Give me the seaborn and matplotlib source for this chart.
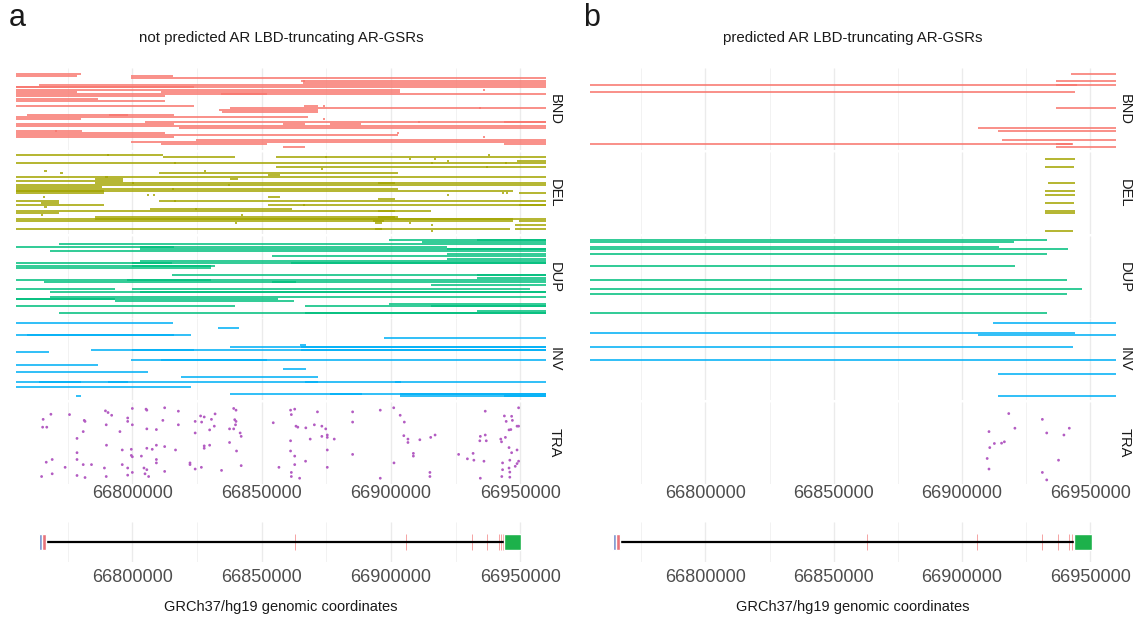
import matplotlib
matplotlib.use('Agg')
import matplotlib.pyplot as plt
import numpy as np
import pandas as pd
import seaborn as sns

# AR locus structural variants, positions in kb (GRCh37/hg19, chrX)

# --- panel a : not predicted AR LBD-truncating ---
bnd_a_row = [0, 1, 1, 2, 3, 3, 4, 5, 6, 6, 7, 7, 7, 8, 8, 9, 9, 9, 10, 11, 12, 14, 14, 14, 15, 15, 16, 17,
             18, 18, 19, 20, 20, 21, 21, 21, 22, 22, 22, 23, 24, 25, 25, 26, 26, 27, 28, 28, 29, 30, 31, 31, 32]
bnd_a_start = [66755, 66755, 66799.3, 66799.3, 66866.0, 66865.4, 66866.0, 66763.9, 66755, 66755, 66755, 66778.5,
               66935.5, 66811.1, 66755, 66755, 66834.1, 66852.1, 66755, 66755, 66755, 66755, 66866.5, 66873.7,
               66837.6, 66934.2, 66833.7, 66834.8, 66759.4, 66791.0, 66755, 66755, 66873.7, 66804.9, 66943.9,
               66910.5, 66755, 66858.4, 66876.5, 66755, 66818.1, 66755, 66770.1, 66755, 66902.2, 66755, 66755,
               66935.5, 66824.8, 66799.3, 66811.1, 66943.9, 66858.4]
bnd_a_end = [66780.3, 66778.5, 66815.7, 66960, 66960, 66866.7, 66960, 66960, 66960, 66823.7, 66778.5, 66903.6,
             66936.3, 66903.6, 66778.5, 66852.1, 66852.1, 66960, 66812.5, 66786.8, 66812.5, 66823.7, 66872.0,
             66874.5, 66960, 66935.0, 66872.0, 66872.0, 66816.0, 66798.2, 66868.1, 66780.3, 66874.5, 66960,
             66960, 66911.3, 66816.0, 66866.7, 66888.3, 66960, 66960, 66780.6, 66770.9, 66812.5, 66903.0,
             66902.9, 66816.0, 66936.3, 66960, 66960, 66852.1, 66960, 66866.7]

del_a_row = [0, 0, 0, 1, 1, 1, 2, 2, 3, 3, 4, 4, 4, 4, 4, 6, 6, 7, 8, 8, 9, 9, 10, 11, 11, 12, 12, 13, 14, 14, 14,
             15, 15, 16, 17, 17, 18, 18, 19, 19, 19, 19, 20, 20, 20, 21, 21, 22, 23, 23, 23, 24, 25, 25, 25, 25,
             26, 27, 27, 28, 28, 29, 30, 30, 31, 31, 32, 32, 33, 33, 33, 34, 34, 34, 35, 35, 37, 37, 37, 38]
del_a_start = [66755, 66790.3, 66937.6, 66811.8, 66855.6, 66874.4, 66907.0, 66916.8, 66921.6, 66948.8, 66755,
               66771.5, 66816.0, 66915.4, 66944.3, 66855.6, 66936.9, 66873.0, 66766.0, 66827.8, 66810.4, 66772.2,
               66852.6, 66755, 66789.6, 66785.4, 66837.6, 66755, 66785.4, 66800.0, 66895.2, 66755, 66836.9, 66755,
               66755, 66815.3, 66755, 66755, 66755, 66949.4, 66942.9, 66944.6, 66805.6, 66808.1, 66921.6, 66852.6,
               66765.3, 66895.2, 66755, 66810.4, 66816.0, 66764.6, 66755, 66852.6, 66949.4, 66866.0, 66766.0,
               66807.0, 66824.3, 66755, 66895.2, 66755, 66764.6, 66842.0, 66785.4, 66895.2, 66755, 66785.4, 66755,
               66949.4, 66893.2, 66839.6, 66893.8, 66907.0, 66915.4, 66948.1, 66755, 66948.1, 66893.8, 66915.4]
del_a_end = [66811.8, 66791.1, 66938.4, 66839.6, 66960, 66875.2, 66907.8, 66917.6, 66922.4, 66960, 66771.5, 66960,
             66816.8, 66916.2, 66945.1, 66960, 66937.7, 66873.8, 66766.8, 66828.6, 66902.9, 66773.0, 66857.0,
             66960, 66790.4, 66796.5, 66841.0, 66796.5, 66960, 66800.8, 66901.5, 66960, 66837.7, 66788.2,
             66902.9, 66816.1, 66947.4, 66788.9, 66788.9, 66960, 66943.7, 66945.4, 66806.4, 66808.9, 66922.4,
             66857.0, 66766.1, 66901.5, 66771.5, 66960, 66816.8, 66771.5, 66788.9, 66960, 66960, 66866.8,
             66766.8, 66861.9, 66825.1, 66915.4, 66901.5, 66771.5, 66765.4, 66842.8, 66902.9, 66901.5, 66960,
             66947.4, 66947.4, 66960, 66897.3, 66840.4, 66896.6, 66907.8, 66916.2, 66960, 66946.0, 66960,
             66896.6, 66916.2]

dup_a_row = [0, 0, 1, 2, 3, 3, 4, 4, 5, 6, 7, 8, 9, 10, 10, 10, 11, 11, 12, 15, 15, 16, 17, 17, 18, 18, 19, 21, 21,
             22, 22, 24, 24, 25, 25, 26, 27, 28, 28, 28, 30, 31, 31]
dup_a_start = [66899.4, 66933.5, 66911.9, 66771.5, 66755, 66802.8, 66802.8, 66921.6, 66768.0, 66921.6, 66854.2,
               66921.6, 66802.8, 66755, 66800.0, 66861.2, 66755, 66800.0, 66755, 66815.3, 66933.5, 66933.5, 66755,
               66797.9, 66766.0, 66854.2, 66915.4, 66755, 66800.0, 66768.0, 66802.8, 66768.0, 66915.4, 66755,
               66755, 66793.1, 66899.4, 66755, 66866.7, 66915.4, 66933.5, 66771.5, 66866.7]
dup_a_end = [66960, 66960, 66960, 66960, 66921.6, 66816.0, 66960, 66960, 66960, 66960, 66960, 66960, 66960, 66960,
             66815.3, 66960, 66832.0, 66830.6, 66830.6, 66960, 66960, 66960, 66960, 66830.6, 66960, 66863.3,
             66960, 66793.1, 66954.0, 66960, 66960, 66915.4, 66960, 66793.1, 66856.3, 66862.6, 66960, 66839.6,
             66960, 66960, 66960, 66960, 66960]

inv_a_row = [0, 2, 5, 5, 6, 9, 10, 10, 11, 11, 11, 12, 15, 15, 17, 19, 20, 22, 22, 24, 24, 24, 24, 24, 26, 29, 29,
             29, 30, 30, 30]
inv_a_start = [66755, 66833.1, 66755, 66759.4, 66897.3, 66864.7, 66837.6, 66865.4, 66784.0, 66800.0, 66865.4,
               66755, 66799.3, 66811.1, 66755, 66858.4, 66755, 66832.4, 66818.8, 66755, 66763.9, 66790.7, 66866.7,
               66901.5, 66755, 66837.6, 66876.5, 66903.6, 66943.9, 66903.6, 66778.2]
inv_a_end = [66815.7, 66841.4, 66822.7, 66816.1, 66960, 66867.0, 66960, 66960, 66960, 66823.7, 66960, 66767.6,
             66960, 66852.1, 66786.8, 66867.0, 66806.0, 66871.9, 66832.4, 66960, 66780.3, 66798.4, 66871.9,
             66904.0, 66822.7, 66960, 66888.7, 66960, 66960, 66960, 66780.3]

tra_a_pos = [66765.5, 66768.5, 66765.3, 66766.9, 66766.7, 66769.0, 66764.9, 66769.0, 66774.0, 66775.7, 66781.4,
             66781.7, 66781.0, 66778.6, 66778.6, 66778.6, 66781.0, 66784.2, 66778.6, 66781.7, 66789.6, 66790.6,
             66792.0, 66789.9, 66795.2, 66790.0, 66796.1, 66798.2, 66798.2, 66800.0, 66800.0, 66799.6, 66799.6,
             66800.0, 66796.1, 66798.2, 66789.2, 66789.9, 66798.2, 66800.0, 66805.3, 66805.6, 66812.5, 66811.8,
             66805.6, 66809.3, 66809.3, 66805.6, 66807.7, 66812.5, 66803.5, 66809.3, 66809.3, 66804.5, 66805.6,
             66806.3, 66812.5, 66804.9, 66817.8, 66817.8, 66816.7, 66824.3, 66824.3, 66826.4, 66827.8, 66826.8,
             66822.3, 66822.3, 66824.3, 66826.7, 66827.8, 66827.8, 66829.9, 66829.9, 66831.7, 66832.0, 66830.6,
             66834.5, 66839.2, 66840.1, 66839.6, 66840.1, 66839.9, 66837.6, 66839.2, 66841.7, 66842.1, 66837.6,
             66840.3, 66842.1, 66854.5, 66861.2, 66862.8, 66861.5, 66864.0, 66863.3, 66867.1, 66870.4, 66871.6,
             66873.3, 66874.8, 66873.3, 66875.4, 66875.4, 66878.1, 66868.8, 66861.2, 66861.2, 66862.8, 66867.0,
             66862.8, 66856.7, 66861.5, 66861.5, 66864.7, 66875.4, 66875.4, 66885.2, 66885.2, 66885.2, 66895.9,
             66895.9, 66901.1, 66903.6, 66905.2, 66905.0, 66906.6, 66906.6, 66911.2, 66915.4, 66917.1, 66908.7,
             66908.7, 66901.2, 66926.2, 66915.1, 66915.1, 66936.5, 66943.9, 66946.7, 66948.8, 66944.6, 66947.0,
             66945.7, 66946.4, 66944.3, 66942.5, 66942.8, 66934.6, 66936.5, 66934.4, 66936.9, 66931.8, 66929.6,
             66932.1, 66936.0, 66945.7, 66948.8, 66946.7, 66946.0, 66949.4, 66943.2, 66948.1, 66945.7, 66943.2,
             66946.0, 66942.9, 66946.0, 66934.6, 66949.4, 66949.4, 66948.8]
tra_a_y = [72, 57, 95, 95, 198, 190, 240, 232, 213, 58, 75, 78, 108, 128, 170, 190, 205, 205, 237, 243, 47, 52, 60,
           88, 108, 148, 162, 68, 78, 88, 40, 160, 178, 182, 205, 215, 215, 240, 236, 228, 42, 45, 38, 75, 100, 102,
           148, 157, 160, 152, 180, 190, 200, 215, 220, 240, 225, 232, 48, 88, 162, 78, 112, 62, 65, 80, 200, 205,
           218, 213, 150, 157, 148, 103, 92, 56, 72, 222, 40, 45, 73, 78, 88, 100, 100, 112, 122, 140, 165, 208, 82,
           45, 42, 58, 95, 92, 97, 88, 50, 92, 100, 122, 118, 125, 130, 130, 135, 165, 180, 195, 205, 213, 228, 240,
           245, 162, 213, 50, 80, 175, 45, 245, 38, 60, 80, 120, 130, 140, 132, 125, 118, 172, 180, 200, 175, 228,
           240, 48, 62, 63, 92, 78, 75, 103, 102, 125, 130, 138, 122, 118, 135, 135, 172, 188, 192, 195, 155, 162,
           170, 192, 195, 200, 210, 215, 220, 227, 240, 242, 245, 38, 92, 202]

# --- panel b : predicted AR LBD-truncating ---
bnd_b_row = [0, 3, 5, 5, 8, 15, 24, 25, 29, 31, 31, 32]
bnd_b_start = [66942.5, 66936.5, 66936.5, 66755, 66755, 66936.5, 66906.3, 66914.0, 66915.4, 66755, 66936.5, 66936.5]
bnd_b_end = [66960, 66960, 66960, 66944.9, 66944.2, 66960, 66960, 66960, 66960, 66943.1, 66942.8, 66960]

del_b_row = [2, 6, 14, 18, 20, 24, 28, 29, 38]
del_b_start = [66932.5, 66932.5, 66933.6, 66932.5, 66932.5, 66932.5, 66932.5, 66932.5, 66932.5]
del_b_end = [66943.9, 66943.5, 66944.2, 66944.2, 66944.2, 66943.5, 66944.2, 66944.2, 66943.1]

dup_b_row = [0, 1, 3, 4, 6, 11, 17, 21, 23, 31]
dup_b_start = [66755, 66755, 66755, 66755, 66755, 66755, 66755, 66755, 66755, 66755]
dup_b_end = [66933.0, 66920.3, 66914.4, 66941.1, 66933.0, 66920.6, 66941.0, 66946.7, 66941.0, 66933.0]

inv_b_row = [0, 4, 5, 10, 15, 21, 30]
inv_b_start = [66912.2, 66755, 66906.3, 66755, 66755, 66914.0, 66914.0]
inv_b_end = [66960, 66944.2, 66960, 66943.1, 66960, 66960, 66960]

tra_b_pos = [66918.2, 66920.6, 66910.5, 66916.5, 66915.4, 66912.6, 66910.8, 66909.8, 66910.5, 66931.3, 66933.0,
             66941.8, 66939.7, 66937.6, 66931.3, 66933.0]
tra_b_y = [55, 98, 108, 138, 142, 143, 155, 187, 218, 72, 112, 98, 118, 192, 228, 250]

# AR gene model (NM_000044), bp
gene_start, gene_end = 66763874, 66950461
utr5 = (66763874, 66764989)
cds_ex1 = (66764989, 66766604)
exon_pos = [66863098, 66905852, 66931244, 66937320, 66941675, 66942669, 66943528]
utr3 = (66943683, 66950461)

sv_types = ['BND', 'DEL', 'DUP', 'INV', 'TRA']
sv_colors = {'BND': '#F8766D', 'DEL': '#A3A500', 'DUP': '#00BF7D', 'INV': '#00B0F6', 'TRA': '#B35CC2'}
row_lims = {'BND': (33.5, -2.5), 'DEL': (39.5, -1.5), 'DUP': (33, -1.5), 'INV': (31.5, -2), 'TRA': (262, 21)}

panels = {
    'a': {'BND': (bnd_a_row, bnd_a_start, bnd_a_end), 'DEL': (del_a_row, del_a_start, del_a_end),
          'DUP': (dup_a_row, dup_a_start, dup_a_end), 'INV': (inv_a_row, inv_a_start, inv_a_end),
          'TRA': (tra_a_pos, tra_a_y)},
    'b': {'BND': (bnd_b_row, bnd_b_start, bnd_b_end), 'DEL': (del_b_row, del_b_start, del_b_end),
          'DUP': (dup_b_row, dup_b_start, dup_b_end), 'INV': (inv_b_row, inv_b_start, inv_b_end),
          'TRA': (tra_b_pos, tra_b_y)},
}
titles = {'a': 'not predicted AR LBD-truncating AR-GSRs', 'b': 'predicted AR LBD-truncating AR-GSRs'}

sns.set_theme(style='white')
plt.rcParams['font.family'] = ['Liberation Sans', 'DejaVu Sans']
plt.rcParams['lines.solid_capstyle'] = 'butt'

W, H = 1144, 622
fig = plt.figure(figsize=(W / 100, H / 100), dpi=100)


def add_ax(x0, y0, x1, y1):
    # pixel box (from top-left) -> figure axes
    return fig.add_axes([x0 / W, 1 - y1 / H, (x1 - x0) / W, (y1 - y0) / H])


xlim = (66755000, 66960000)
major = [66800000, 66850000, 66900000, 66950000]
minor = [66775000, 66825000, 66875000, 66925000]


def style_x(ax, labels):
    ax.set_xlim(xlim)
    ax.set_xticks(major)
    ax.set_xticks(minor, minor=True)
    ax.set_xticklabels([str(m) for m in major] if labels else [])
    ax.grid(axis='x', which='major', color='#EBEBEB', lw=1.0)
    ax.grid(axis='x', which='minor', color='#F2F2F2', lw=0.7)
    ax.set_axisbelow(True)
    ax.set_yticks([])
    ax.tick_params(axis='x', which='both', length=0, labelsize=13, labelcolor='#4D4D4D', pad=1)
    for s in ax.spines.values():
        s.set_visible(False)
    ax.set_xlabel('')
    ax.set_ylabel('')


col_x = {'a': (16, 546), 'b': (590, 1116)}
facet_top = [68, 152, 236, 318, 402]
facet_h = 82

for key, (x0, x1) in col_x.items():
    data = panels[key]
    for i, sv in enumerate(sv_types):
        ax = add_ax(x0, facet_top[i], x1, facet_top[i] + facet_h)
        if sv == 'TRA':
            pos, yy = data[sv]
            sns.scatterplot(x=np.array(pos) * 1000, y=yy, s=4, color=sv_colors[sv],
                            edgecolor='none', ax=ax, legend=False)
        else:
            rows, starts, ends = data[sv]
            n = len(rows)
            df = pd.DataFrame({'pos': np.r_[starts, ends] * 1000,
                               'row': np.r_[rows, rows],
                               'seg': np.r_[np.arange(n), np.arange(n)]})
            sns.lineplot(data=df, x='pos', y='row', units='seg', estimator=None, sort=False,
                         color=sv_colors[sv], lw=1.2, alpha=0.95, ax=ax, legend=False)
        ax.set_ylim(row_lims[sv])
        style_x(ax, labels=(sv == 'TRA'))
        ax.annotate(sv, xy=(1, 0.5), xycoords='axes fraction', xytext=(9, 0),
                    textcoords='offset pixels', rotation=270, va='center', ha='center',
                    fontsize=10.5, color='#1A1A1A')

    # gene model track
    gx = add_ax(x0, 522, x1, 562)
    gx.plot([gene_start, gene_end], [0, 0], color='black', lw=1.6, solid_capstyle='butt', zorder=2)
    gx.vlines(exon_pos, -0.4, 0.4, color='#F5A3A3', lw=0.7, zorder=1)
    gx.barh(0, utr5[1] - utr5[0], left=utr5[0], height=0.8, color='#6A87C9', zorder=3)
    gx.barh(0, cds_ex1[1] - cds_ex1[0], left=cds_ex1[0], height=0.8, color='#E8737A', zorder=3)
    gx.barh(0, utr3[1] - utr3[0], left=utr3[0], height=0.8, color='#1DB14B', zorder=3)
    gx.set_ylim(-1, 1)
    style_x(gx, labels=True)
    gx.tick_params(axis='x', pad=5)

    cx = (x0 + x1) / 2 / W
    fig.text(cx, 1 - 38 / H, titles[key], ha='center', va='center', fontsize=10.8, color='#1A1A1A')
    fig.text(cx, 1 - 607 / H, 'GRCh37/hg19 genomic coordinates', ha='center', va='center',
             fontsize=10.5, color='#1A1A1A')
    fig.text((x0 - 7) / W, 1 - 18 / H, key, ha='left', va='center', fontsize=22, color='#1A1A1A')

fig.savefig('out.png', dpi=100)
